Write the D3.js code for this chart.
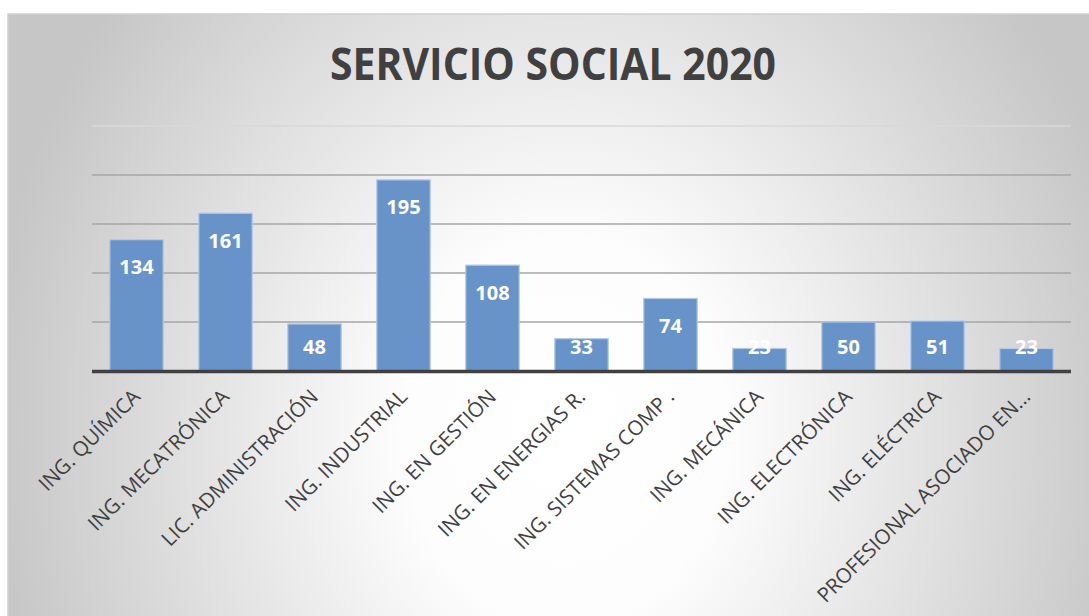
<!DOCTYPE html>
<html>
<head>
<meta charset="utf-8">
<script src="https://cdn.jsdelivr.net/npm/d3@7"></script>
<style>
  html, body { margin: 0; padding: 0; background: #fff; }
  svg { display: block; }
</style>
</head>
<body>
<svg id="chart" width="1089" height="616"></svg>
<script>
const carreras = [
    'ING. QUÍMICA', 'ING. MECATRÓNICA', 'LIC. ADMINISTRACIÓN', 'ING. INDUSTRIAL',
    'ING. EN GESTIÓN', 'ING. EN ENERGIAS R.', 'ING. SISTEMAS COMP .', 'ING. MECÁNICA',
    'ING. ELECTRÓNICA', 'ING. ELÉCTRICA', 'PROFESIONAL ASOCIADO EN...'
];
const alumnos = [134, 161, 48, 195, 108, 33, 74, 23, 50, 51, 23];
const lineasGuia = [50, 100, 150, 200, 250];

const ancho = 1089;
const alto = 616;
const izq = 92, der = 1071, base = 371, arriba = 126;

const svg = d3.select('#chart');

// degradado eliptico, mas blanco al centro-abajo
const defs = svg.append('defs');
const fondo = defs.append('radialGradient')
    .attr('id', 'fondo')
    .attr('gradientUnits', 'userSpaceOnUse')
    .attr('cx', 0).attr('cy', 0).attr('r', 1)
    .attr('gradientTransform', 'translate(565,430) scale(580,680)');
fondo.append('stop').attr('offset', '0').attr('stop-color', '#ffffff');
fondo.append('stop').attr('offset', '0.28').attr('stop-color', '#fdfdfd');
fondo.append('stop').attr('offset', '1').attr('stop-color', '#c6c6c6');

// fondo del grafico
svg.append('rect')
    .attr('x', 8).attr('y', 14)
    .attr('width', ancho).attr('height', alto)
    .attr('fill', 'url(#fondo)')
    .attr('stroke', '#d0d0d0')
    .attr('stroke-width', 1.5);

svg.append('text')
    .attr('x', 553)
    .attr('y', 80)
    .attr('text-anchor', 'middle')
    .attr('textLength', 446)
    .attr('lengthAdjust', 'spacingAndGlyphs')
    .style('font-family', '"Open Sans", sans-serif')
    .style('font-weight', 700)
    .style('font-size', '45px')
    .style('fill', '#404040')
    .text('SERVICIO SOCIAL 2020');

const x = d3.scaleBand()
    .domain(carreras)
    .range([izq, der])
    .paddingInner(0.4)
    .paddingOuter(0.2);

const y = d3.scaleLinear()
    .domain([0, 250])
    .range([base, arriba]);

svg.append('g')
    .selectAll('line')
    .data(lineasGuia)
    .join('line')
    .attr('x1', izq).attr('x2', der)
    .attr('y1', d => y(d)).attr('y2', d => y(d))
    .attr('stroke', d => d === 250 ? '#d9d9d9' : '#a6a6a6')
    .attr('stroke-width', 1.5);

svg.append('g')
    .selectAll('rect')
    .data(alumnos)
    .join('rect')
    .attr('x', (d, i) => x(carreras[i]))
    .attr('y', d => y(d))
    .attr('width', x.bandwidth())
    .attr('height', d => base - y(d))
    .attr('fill', '#6793c8')
    .attr('stroke', '#b3c9e6')
    .attr('stroke-width', 1.2);

// eje
svg.append('line')
    .attr('x1', izq).attr('x2', der)
    .attr('y1', base + 0.5).attr('y2', base + 0.5)
    .attr('stroke', '#404040')
    .attr('stroke-width', 3.5);

// etiquetas de valores
svg.append('g')
    .selectAll('text')
    .data(alumnos)
    .join('text')
    .attr('x', (d, i) => x(carreras[i]) + x.bandwidth() / 2)
    .attr('y', d => Math.min(y(d) + 27.5, base - 24) + 7)
    .attr('text-anchor', 'middle')
    .style('font-family', '"Open Sans", sans-serif')
    .style('font-weight', 700)
    .style('font-size', '20px')
    .style('fill', '#ffffff')
    .text(d => d);

// etiquetas de categorias
svg.append('g')
    .selectAll('text')
    .data(carreras)
    .join('text')
    .attr('transform', d => `translate(${x(d) + x.bandwidth() / 2 + 5},${base + 27}) rotate(-45)`)
    .attr('text-anchor', 'end')
    .style('font-family', '"Open Sans", sans-serif')
    .style('font-size', '20.5px')
    .style('fill', '#404040')
    .text(d => d);
</script>
</body>
</html>
